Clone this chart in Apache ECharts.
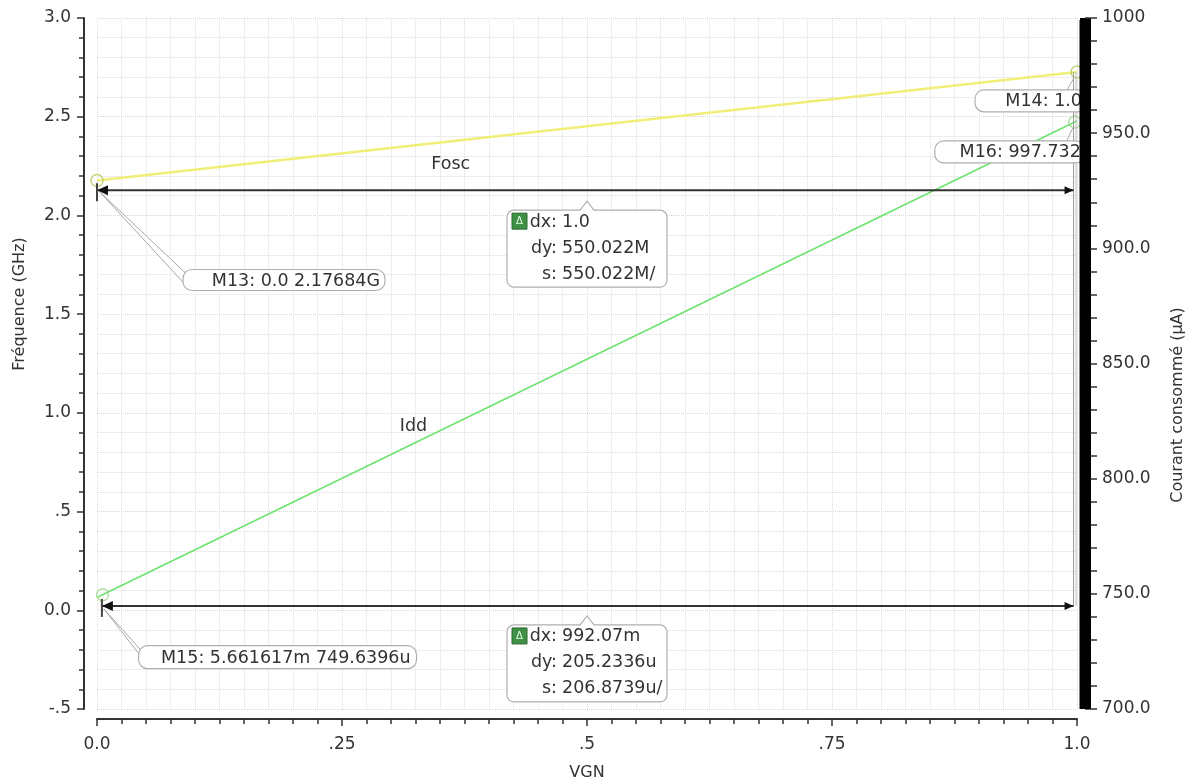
<!DOCTYPE html>
<html><head><meta charset="utf-8">
<script src="https://cdn.jsdelivr.net/npm/echarts@6/dist/echarts.min.js"></script>
<style>html,body{margin:0;padding:0;background:#fff}#c{width:1191px;height:782px}</style>
</head><body><div id="c"></div>
<script>
// ---- data ----
const xTickValues = [0, 0.25, 0.5, 0.75, 1];
const xTickLabels = ['0.0', '.25', '.5', '.75', '1.0'];
const fTickValues = [-0.5, 0, 0.5, 1, 1.5, 2, 2.5, 3];
const fTickLabels = ['-.5', '0.0', '.5', '1.0', '1.5', '2.0', '2.5', '3.0'];
const iTickValues = [700, 750, 800, 850, 900, 950, 1000];
const iTickLabels = ['700.0', '750.0', '800.0', '850.0', '900.0', '950.0', '1000'];

const foscVGN = [0, 1];
const foscGHz = [2.17684, 2.726862];
const iddVGN = [0, 0.005661617, 0.997732, 1];
const iddUA = [748.469, 749.6396, 954.8732, 955.342];

const markerNames = ['M13', 'M14', 'M15', 'M16'];
const markerX = [0, 1, 0.005661617, 0.997732];
const markerY = [2.17684, 2.726862, 749.6396, 954.8732];
const markerAxis = [0, 0, 1, 1];
const markerText = ['M13: 0.0 2.17684G', 'M14: 1.0', 'M15: 5.661617m 749.6396u', 'M16: 997.732'];

const deltaFoscRows = [['dx:', '1.0'], ['dy:', '550.022M'], ['s:', '550.022M/']];
const deltaIddRows = [['dx:', '992.07m'], ['dy:', '205.2336u'], ['s:', '206.8739u/']];
const deltaFoscLevel = 2.128;   // GHz, level of the Fosc delta arrow
const deltaIddLevel = 0.022;    // GHz, level of the Idd delta arrow
const deltaArrowEnd = 0.9965;

const FONT = 'DejaVu Sans';
const TXT = '#333';
const TICK_FS = 17, ANN_FS = 17.5, DELTA_FS = 17.5, TITLE_FS = 16;

function lbl(values, labels) {
  return v => { for (let i = 0; i < values.length; i++) if (Math.abs(values[i] - v) < 1e-6) return labels[i]; return ''; };
}

const chart = echarts.init(document.getElementById('c'), null, {renderer: 'canvas'});
const option = {
  animation: false,
  backgroundColor: '#fff',
  textStyle: {fontFamily: FONT},
  grid: {left: 97, right: 114, top: 18, bottom: 73, containLabel: false, outerBoundsMode: 'none'},
  xAxis: {
    type: 'value', min: 0, max: 1, interval: 0.25, offset: 10,
    name: 'VGN', nameLocation: 'middle', nameGap: 46,
    nameTextStyle: {color: TXT, fontSize: TITLE_FS, fontFamily: FONT},
    axisLine: {show: true, onZero: false, lineStyle: {color: '#333', width: 2}},
    axisTick: {show: true, inside: false, length: 7, lineStyle: {color: '#333', width: 1.5}},
    minorTick: {show: true, splitNumber: 10, length: 5, lineStyle: {color: '#333', width: 1.5}},
    axisLabel: {color: TXT, fontSize: TICK_FS, fontFamily: FONT, margin: 17, formatter: lbl(xTickValues, xTickLabels)},
    splitLine: {show: true, lineStyle: {color: '#dcdcdc', type: 'dotted', width: 1}},
    minorSplitLine: {show: true, lineStyle: {color: '#ededed', type: 'solid', width: 1}}
  },
  yAxis: [{
    type: 'value', min: -0.5, max: 3.0, interval: 0.5, position: 'left', offset: 13,
    axisLine: {show: true, onZero: false, lineStyle: {color: '#333', width: 2}},
    axisTick: {show: true, inside: false, length: 7, lineStyle: {color: '#333', width: 1.5}},
    minorTick: {show: true, splitNumber: 5, length: 5, lineStyle: {color: '#333', width: 1.5}},
    axisLabel: {color: TXT, fontSize: TICK_FS, fontFamily: FONT, margin: 13, formatter: lbl(fTickValues, fTickLabels)},
    splitLine: {show: true, lineStyle: {color: '#d6d6d6', type: 'dotted', width: 1}},
    minorSplitLine: {show: true, lineStyle: {color: '#ededed', type: 'solid', width: 1}}
  }, {
    type: 'value', min: 700, max: 1000, interval: 50, position: 'right', offset: 8,
    axisLine: {show: true, onZero: false, lineStyle: {color: '#000', width: 11, cap: 'butt'}},
    axisTick: {show: true, inside: false, length: 12, lineStyle: {color: '#333', width: 1.5}},
    minorTick: {show: true, splitNumber: 5, length: 12, lineStyle: {color: '#333', width: 1.5}},
    axisLabel: {color: TXT, fontSize: TICK_FS, fontFamily: FONT, margin: 17, formatter: lbl(iTickValues, iTickLabels)},
    splitLine: {show: false}
  }],
  series: [{
    name: 'Fosc', type: 'line', yAxisIndex: 0, symbol: 'none',
    data: foscVGN.map((x, i) => [x, foscGHz[i]]),
    lineStyle: {color: '#efef78', width: 2.5}, z: 3
  }, {
    name: 'Idd', type: 'line', yAxisIndex: 1, symbol: 'none',
    data: iddVGN.map((x, i) => [x, iddUA[i]]),
    lineStyle: {color: '#6ee36e', width: 1.6}, z: 3
  }, {
    name: 'markersF', type: 'scatter', yAxisIndex: 0, symbol: 'circle', symbolSize: 12,
    data: markerX.map((x, i) => [x, markerY[i]]).filter((d, i) => markerAxis[i] === 0),
    itemStyle: {color: 'rgba(255,255,255,0)', borderColor: '#b5c95c', borderWidth: 1.5}, z: 4
  }, {
    name: 'markersI', type: 'scatter', yAxisIndex: 1, symbol: 'circle', symbolSize: 12,
    data: markerX.map((x, i) => [x, markerY[i]]).filter((d, i) => markerAxis[i] === 1),
    itemStyle: {color: 'rgba(255,255,255,0)', borderColor: '#9ed88a', borderWidth: 1.5}, z: 4
  }]
};
chart.setOption(option);

function P(x, y, ax) { return chart.convertToPixel({xAxisIndex: 0, yAxisIndex: ax}, [x, y]); }

function arrow(x0, x1, y, els) {
  const a = P(x0, y, 0), b = P(x1, y, 0);
  els.push({type: 'line', shape: {x1: a[0], y1: a[1], x2: b[0], y2: b[1]}, style: {stroke: '#333', lineWidth: 2}, z: 50});
  els.push({type: 'polygon', shape: {points: [[a[0], a[1]], [a[0] + 11, a[1] - 5], [a[0] + 11, a[1] + 5]]}, style: {fill: '#111'}, z: 50});
  els.push({type: 'polygon', shape: {points: [[b[0], b[1]], [b[0] - 9, b[1] - 4], [b[0] - 9, b[1] + 4]]}, style: {fill: '#111'}, z: 50});
  els.push({type: 'line', shape: {x1: a[0], y1: a[1] - 7, x2: a[0], y2: a[1] + 11}, style: {stroke: '#444', lineWidth: 2}, z: 50});
  return [a, b];
}

function txt(x, y, s, fs, align, els) {
  els.push({type: 'text', x: x, y: y, style: {text: s, fill: TXT, font: fs + 'px ' + FONT, align: align, verticalAlign: 'middle'}, z: 63});
}

function deltaBox(cx, top, rows, els) {
  const w = 160, h = 77, left = cx - 80;
  els.push({type: 'rect', shape: {x: left, y: top, width: w, height: h, r: 7}, style: {fill: '#fff', stroke: '#b0b0b0', lineWidth: 1.2}, z: 60});
  els.push({type: 'polygon', shape: {points: [[cx - 7, top + 1], [cx, top - 9], [cx + 7, top + 1]]}, style: {fill: '#fff'}, z: 61});
  els.push({type: 'polyline', shape: {points: [[cx - 7, top], [cx, top - 9], [cx + 7, top]]}, style: {stroke: '#b0b0b0', lineWidth: 1.2, fill: null}, z: 62});
  els.push({type: 'rect', shape: {x: left + 5, y: top + 3, width: 15, height: 16}, style: {fill: '#3f8f45', stroke: '#2b6a30', lineWidth: 1}, z: 62});
  els.push({type: 'text', x: left + 12.5, y: top + 11, style: {text: 'Δ', fill: '#e8ffe8', font: '10px ' + FONT, align: 'center', verticalAlign: 'middle'}, z: 63});
  const rowY = [12, 38, 64];
  rows.forEach((r, i) => {
    txt(left + 50, top + rowY[i], r[0], DELTA_FS, 'right', els);
    txt(left + 55, top + rowY[i], r[1], DELTA_FS, 'left', els);
  });
}

function labelBox(left, top, w, h, text, textRight, els) {
  els.push({type: 'rect', shape: {x: left, y: top, width: w, height: h, r: 9}, style: {fill: '#fff', stroke: '#b0b0b0', lineWidth: 1.2}, z: 60});
  txt(textRight, top + h / 2 + 1, text, ANN_FS, 'right', els);
}

function leader(from, p1, p2, els) {
  els.push({type: 'polygon', shape: {points: [from, p1, p2]}, style: {fill: '#fff', stroke: '#a8a8a8', lineWidth: 1}, z: 55});
}

function draw() {
  const els = [];
  const gl = P(0, -0.5, 0), gr = P(1, 3, 0);
  // vertical delta guide near the right edge
  const vTop = P(deltaArrowEnd, markerY[1], 0), vBot = P(deltaArrowEnd, deltaIddLevel, 0);
  els.push({type: 'line', shape: {x1: vTop[0], y1: vTop[1], x2: vBot[0], y2: vBot[1]}, style: {stroke: '#999', lineWidth: 1}, z: 40});
  els.push({type: 'line', shape: {x1: vTop[0] + 2.5, y1: vTop[1], x2: vBot[0] + 2.5, y2: vBot[1]}, style: {stroke: '#bbb', lineWidth: 1}, z: 40});

  const [fa] = arrow(0, deltaArrowEnd, deltaFoscLevel, els);
  const [ia] = arrow(0.005, deltaArrowEnd, deltaIddLevel, els);
  const cx = P(0.5, 0, 0)[0];
  deltaBox(cx, fa[1] + 20, deltaFoscRows, els);
  deltaBox(cx, ia[1] + 19, deltaIddRows, els);

  // M13
  const m13 = P(markerX[0], markerY[0], 0);
  leader([fa[0] + 3, fa[1] + 2], [m13[0] + 88, m13[1] + 92], [m13[0] + 90, m13[1] + 106], els);
  labelBox(m13[0] + 86, m13[1] + 89, 202, 21, markerText[0], m13[0] + 283, els);
  // M15
  const m15 = P(markerX[2], markerY[2], 1);
  leader([ia[0] + 2, ia[1] + 3], [m15[0] + 38, m15[1] + 55], [m15[0] + 45, m15[1] + 70], els);
  labelBox(m15[0] + 36, m15[1] + 51, 278, 23, markerText[2], m15[0] + 308, els);
  // M14
  const m14 = P(markerX[1], markerY[1], 0);
  els.push({type: 'line', shape: {x1: m14[0] - 3, y1: m14[1] + 6, x2: m14[0] - 10, y2: m14[1] + 18}, style: {stroke: '#aaa', lineWidth: 1}, z: 55});
  labelBox(m14[0] - 102, m14[1] + 18, 112, 22, markerText[1], m14[0] + 5, els);
  // M16
  const m16 = P(markerX[3], markerY[3], 1);
  els.push({type: 'line', shape: {x1: m16[0] - 2, y1: m16[1] + 6, x2: m16[0] - 8, y2: m16[1] + 19}, style: {stroke: '#aaa', lineWidth: 1}, z: 55});
  labelBox(m16[0] - 140, m16[1] + 19, 150, 22, markerText[3], m16[0] + 6, els);

  // curve names
  const fl = P(0.361, 2.256, 0), il = P(0.323, 0.93, 0);
  txt(fl[0], fl[1], 'Fosc', ANN_FS, 'center', els);
  txt(il[0], il[1], 'Idd', ANN_FS, 'center', els);

  // axis titles
  els.push({type: 'text', x: gl[0] - 77, y: 304, rotation: Math.PI / 2, style: {text: 'Fréquence (GHz)', fill: TXT, font: TITLE_FS + 'px ' + FONT, align: 'center', verticalAlign: 'middle'}, z: 50});
  els.push({type: 'text', x: gr[0] + 101, y: 405, rotation: Math.PI / 2, style: {text: 'Courant consommé (µA)', fill: TXT, font: TITLE_FS + 'px ' + FONT, align: 'center', verticalAlign: 'middle'}, z: 50});

  // keep the thick right axis bar on top of clipped labels
  const rb = P(1, 1000, 1), rb2 = P(1, 700, 1);
  els.push({type: 'rect', shape: {x: rb[0] + 2.5, y: rb[1] + 2, width: 11, height: rb2[1] - rb[1] - 2}, style: {fill: '#000'}, z: 80});

  chart.setOption({graphic: {elements: els}});
}
draw();
</script>
</body></html>
